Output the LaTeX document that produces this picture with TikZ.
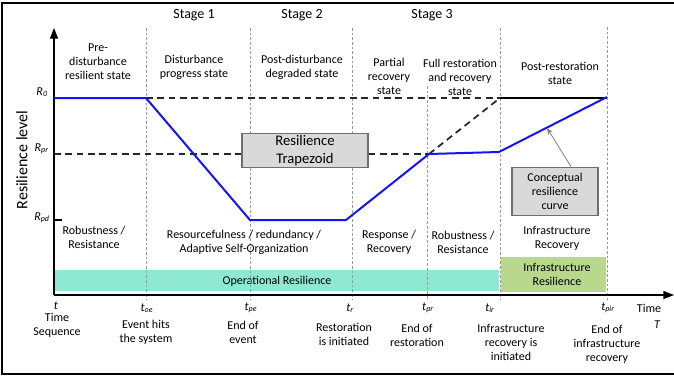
\documentclass[tikz,border=0pt]{standalone}
\usepackage{fontspec}
\setmainfont{Carlito}
\usetikzlibrary{arrows.meta}
\definecolor{curveblue}{RGB}{20,20,245}
\definecolor{opband}{RGB}{143,232,210}
\definecolor{infband}{RGB}{184,216,142}
\definecolor{boxfill}{RGB}{217,217,217}
\definecolor{boxline}{RGB}{110,110,110}
\tikzset{
  lbl/.style={align=center, font=\fontsize{9}{10.5}\selectfont, inner sep=0pt},
  stagelbl/.style={font=\fontsize{10.5}{12}\selectfont, inner sep=0pt},
  tlbl/.style={font=\fontsize{9}{10}\selectfont, inner sep=0pt},
  sepline/.style={draw=gray!80, dash pattern=on 2pt off 1.5pt, line width=0.45pt},
  refdash/.style={draw=black!85, dash pattern=on 5pt off 3.5pt, line width=1.3pt},
  graybox/.style={draw=boxline, fill=boxfill, line width=0.8pt, align=center, inner sep=0pt},
}
\begin{document}
\begin{tikzpicture}[x=0.75pt,y=0.75pt,yscale=-1]
\useasboundingbox (0,0) rectangle (674,379);

%Shape: Frame
\draw [line width=1.5pt] (2,3) rectangle (680,374);

%Shape: Bands
\fill [opband] (55,270) rectangle (499,291);
\fill [infband] (501,257) rectangle (606,292);
\node (opres) [lbl] at (277,281) {Operational Resilience};
\node (infres) [lbl] at (557,274) {Infrastructure\\Resilience};

%Straight Lines: stage separators
\draw [sepline] (146,28) -- (146,300);
\draw [sepline] (250,28) -- (250,300);
\draw [sepline] (352,28) -- (352,300);
\draw [sepline] (427,86) -- (427,300);
\draw [sepline] (500,28) -- (500,300);
\draw [sepline] (607,27) -- (607,300);

%Shape: Axis 2D
\coordinate (origin) at (54,295);
\coordinate (ytop) at (54,28);
\coordinate (xend) at (674,295);
\draw [line width=1pt, -{Triangle[length=8pt,width=6pt]}] (origin) -- (ytop);
\draw [line width=1pt, -{Triangle[length=8pt,width=6pt]}] (origin) -- (xend);
\draw [line width=0.8pt] (54,220) -- (62,220);

%Resilience trapezoid reference lines
\node (trap) [graybox, minimum width=94.5pt, minimum height=26pt, font=\fontsize{11}{13}\selectfont] at (305,150.5) {Resilience\\Trapezoid};
\coordinate (rprstart) at (54,154);
\coordinate (fullrec) at (429,154);
\coordinate (rzero) at (500,98);
\draw [refdash] (146,98) -- (rzero);
\draw [line width=0.8pt] (rzero) -- (607,98);
\draw [refdash] (fullrec) -- (rzero);
\draw [refdash] (rprstart) -- (trap.west |- rprstart);
\draw [refdash] (trap.east |- fullrec) -- (fullrec);

%Curve Lines: resilience curve
\draw [curveblue, line width=1.5pt, line join=round] (54,98) -- (146,98) -- (250,220) -- (346,220) -- (fullrec) -- (499,152) -- (607,97);
\coordinate (oncurve) at (547,128);

%Conceptual curve box
\node (concept) [graybox, minimum width=64.5pt, minimum height=36.5pt, font=\fontsize{9}{10.5}\selectfont] at (555,191.5) {Conceptual\\resilience\\curve};
\draw [draw=gray, line width=0.6pt, -{Stealth[length=5pt,width=4pt]}] (concept.north) ++(16,0) -- (oncurve);

% Text Node: stages
\node (stage1) [stagelbl] at (194,15) {Stage 1};
\node (stage2) [stagelbl] at (302,15) {Stage 2};
\node (stage3) [stagelbl] at (432,15) {Stage 3};

% Text Node: states
\node (prestate) [lbl] at (98,62) {Pre-\\disturbance\\resilient state};
\node (progstate) [lbl] at (194,67) {Disturbance\\progress state};
\node (degstate) [lbl] at (302,67) {Post-disturbance\\degraded state};
\node (partstate) [lbl] at (389,76) {Partial\\recovery\\state};
\node (fullstate) [lbl] at (460,77) {Full restoration\\and recovery\\state};
\node (poststate) [lbl] at (560,73) {Post-restoration\\state};

% Text Node: capacities
\node (robust1) [lbl] at (94,237) {Robustness /\\Resistance};
\node (resource) [lbl] at (244,242) {Resourcefulness / redundancy /\\Adaptive Self-Organization};
\node (response) [lbl] at (389,242) {Response /\\Recovery};
\node (robust2) [lbl] at (463,242) {Robustness /\\Resistance};
\node (infrec) [lbl] at (557,238) {Infrastructure\\Recovery};

% Text Node: resilience levels
\node (rlevel) [lbl, rotate=90, font=\fontsize{12}{14}\selectfont] at (22,160) {Resilience level};
\node (r0) [tlbl, anchor=east] at (48,92) {\textit{R\textsubscript{0}}};
\node (rpr) [tlbl, anchor=east] at (49,149) {\textit{R\textsubscript{pr}}};
\node (rpd) [tlbl, anchor=east] at (50,218) {\textit{R\textsubscript{pd}}};

% Text Node: time marks
\node (t0) [tlbl] at (56,306) {\textit{t}};
\node (toe) [tlbl] at (147,308) {\textit{t\textsubscript{oe}}};
\node (tpe) [tlbl] at (251,308) {\textit{t\textsubscript{pe}}};
\node (tr) [tlbl] at (350,308) {\textit{t\textsubscript{r}}};
\node (tpr) [tlbl] at (428,308) {\textit{t\textsubscript{pr}}};
\node (tir) [tlbl] at (490,308) {\textit{t\textsubscript{ir}}};
\node (tpir) [tlbl] at (608,308) {\textit{t\textsubscript{pir}}};
\node (timeax) [lbl, font=\fontsize{9}{12}\selectfont] at (649,316) {Time\\\hspace*{1.4em}\textit{T}};

% Text Node: events
\node (tseq) [lbl] at (57,325) {Time\\Sequence};
\node (ehit) [lbl] at (146,332) {Event hits\\the system};
\node (eend) [lbl] at (243,332) {End of\\event};
\node (rinit) [lbl] at (344,334) {Restoration\\is initiated};
\node (rend) [lbl] at (417,335) {End of\\restoration};
\node (iinit) [lbl] at (511,342) {Infrastructure\\recovery is\\initiated};
\node (iend) [lbl] at (607,344) {End of\\infrastructure\\recovery};

\end{tikzpicture}
\end{document}
